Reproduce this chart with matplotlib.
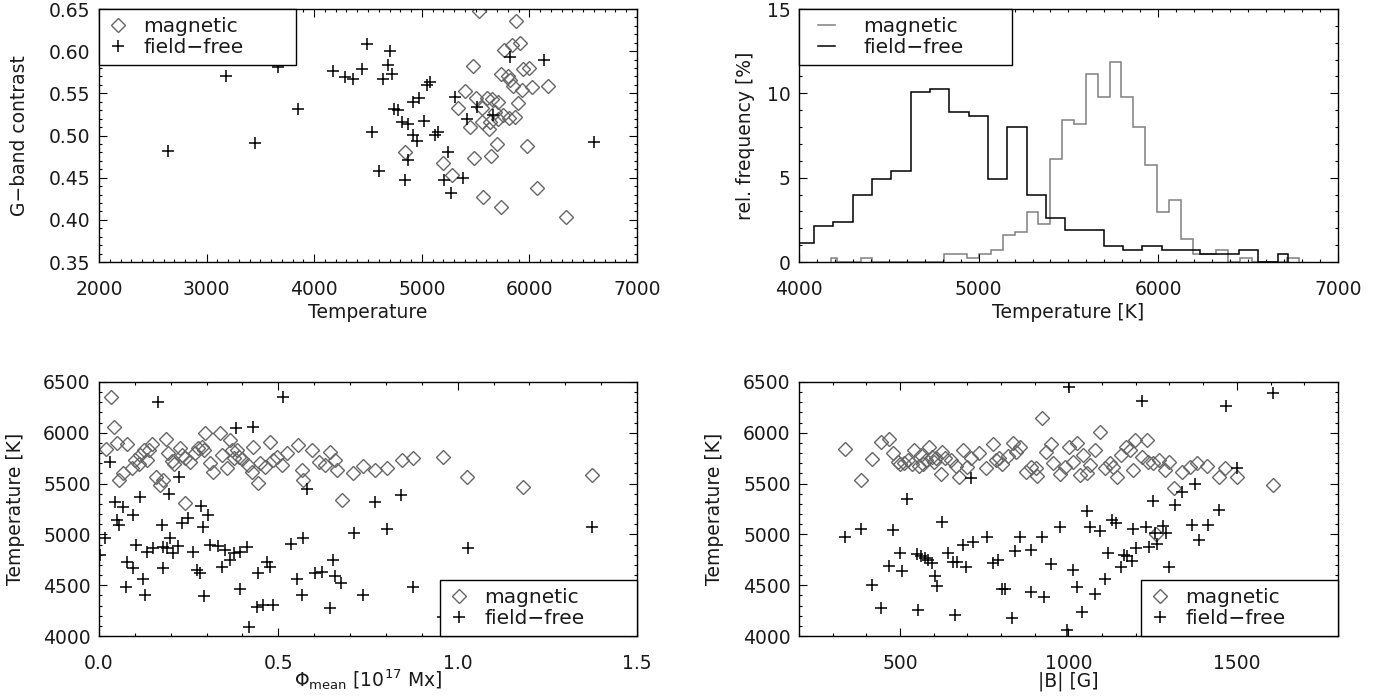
import matplotlib
matplotlib.use('Agg')
import matplotlib.pyplot as plt
from matplotlib.lines import Line2D
from matplotlib.legend_handler import HandlerLine2D
from matplotlib.ticker import MultipleLocator, FormatStrFormatter

# --- G-band contrast vs temperature (top left) ---
gc_mag_T = [5532, 5875, 5764, 5838, 5913, 5476, 5736, 5801, 5820, 5940, 5996, 5848, 5931, 6024,
            6173, 5401, 5504, 5606, 5652, 5708, 5336, 5894, 5560, 5680, 5755, 5810, 5866, 5560,
            5634, 5708, 5448, 5625, 5699, 5978, 4844, 5485, 5643, 5197, 5281, 6071, 5569, 5736, 6340]
gc_mag_c = [0.648, 0.636, 0.601, 0.607, 0.610, 0.582, 0.573, 0.571, 0.566, 0.579, 0.580, 0.559, 0.554, 0.558,
            0.559, 0.553, 0.544, 0.544, 0.543, 0.540, 0.533, 0.539, 0.533, 0.528, 0.524, 0.521, 0.522, 0.516,
            0.516, 0.520, 0.510, 0.508, 0.490, 0.488, 0.480, 0.473, 0.476, 0.467, 0.453, 0.438, 0.427, 0.415, 0.403]
gc_ff_T = [2641, 3180, 3450, 3664, 3849, 4175, 4286, 4361, 4444, 4491, 4639, 4686, 4704, 4723,
           4537, 4602, 4742, 4779, 4816, 4872, 4872, 4844, 4918, 4955, 4918, 4974, 5020, 5048,
           5076, 5123, 5151, 5243, 5206, 5271, 5383, 5309, 5420, 5513, 5662, 5820, 6136, 6600]
gc_ff_c = [0.482, 0.571, 0.491, 0.581, 0.531, 0.577, 0.569, 0.567, 0.579, 0.608, 0.567, 0.584, 0.600, 0.573,
           0.504, 0.458, 0.531, 0.530, 0.516, 0.514, 0.471, 0.447, 0.501, 0.494, 0.540, 0.544, 0.517, 0.560,
           0.563, 0.501, 0.504, 0.480, 0.447, 0.432, 0.450, 0.546, 0.520, 0.534, 0.524, 0.593, 0.590, 0.492]

# --- temperature histograms (top right): bin edges [K], rel. frequency [%] ---
hist_mag_edges = [4178, 4211, 4343, 4409, 4805, 4871, 4937, 5003, 5069, 5135, 5201, 5267, 5333,
                  5399, 5465, 5531, 5597, 5663, 5729, 5795, 5861, 5927, 5993, 6059, 6125, 6191,
                  6257, 6323, 6389, 6455, 6521, 6719, 6785]
hist_mag_freq = [0.24, 0, 0.24, 0, 0.47, 0.47, 0.24, 0.47, 0.69, 1.62, 1.80, 2.96,
                 2.25, 6.13, 8.44, 8.20, 11.17, 9.76, 11.86, 9.76, 8.00, 5.77, 2.96, 3.66,
                 1.38, 0.47, 0.47, 0.70, 0, 0.24, 0, 0.24]
hist_ff_edges = [3978, 4085, 4192, 4300, 4407, 4515, 4622, 4730, 4837, 4945, 5052, 5160, 5267,
                 5375, 5482, 5590, 5697, 5805, 5912, 6020, 6127, 6235, 6342, 6450, 6557, 6665, 6720]
hist_ff_freq = [1.15, 2.11, 2.35, 3.99, 4.92, 5.38, 10.06, 10.26, 8.87, 8.64, 4.92, 7.98,
                3.99, 2.61, 1.92, 1.92, 0.93, 0.70, 0.93, 0.70, 0.70, 0.47, 0.47, 0.70, 0, 0.47]

# --- temperature vs mean flux (bottom left) ---
phi_mag = [0.033, 0.042, 0.020, 0.049, 0.077, 0.056, 0.068, 0.091, 0.100, 0.114, 0.125, 0.138, 0.147,
           0.112, 0.133, 0.159, 0.170, 0.179, 0.186, 0.193, 0.203, 0.210, 0.226, 0.230, 0.240, 0.240,
           0.254, 0.268, 0.277, 0.286, 0.293, 0.296, 0.309, 0.319, 0.337, 0.342, 0.356, 0.365, 0.370,
           0.375, 0.384, 0.391, 0.398, 0.414, 0.426, 0.430, 0.442, 0.449, 0.463, 0.477, 0.486, 0.495,
           0.509, 0.523, 0.556, 0.565, 0.570, 0.593, 0.612, 0.630, 0.644, 0.658, 0.664, 0.677, 0.709,
           0.735, 0.770, 0.804, 0.844, 0.876, 0.958, 1.027, 1.181, 1.374]
phi_mag_T = [6356, 6054, 5837, 5896, 5890, 5535, 5601, 5650, 5732, 5781, 5831, 5831, 5890,
             5693, 5732, 5568, 5486, 5535, 5936, 5798, 5726, 5693, 5847, 5781, 5749, 5312,
             5716, 5798, 5847, 5863, 5831, 5995, 5699, 5617, 6001, 5781, 5650, 5929, 5831,
             5749, 5831, 5758, 5739, 5683, 5617, 5863, 5503, 5699, 5667, 5913, 5732, 5765,
             5683, 5798, 5880, 5634, 5535, 5831, 5716, 5683, 5814, 5732, 5634, 5339, 5608,
             5673, 5634, 5650, 5732, 5749, 5765, 5562, 5470, 5585]
phi_ff = [0.165, 0.512, 0.031, 0.381, 0.430, 0.223, 0.195, 0.045, 0.114, 0.066, 0.096, 0.050, 0.057,
          0.017, 0.003, 0.175, 0.198, 0.230, 0.249, 0.284, 0.291, 0.305, 0.310, 0.103, 0.133, 0.151,
          0.178, 0.189, 0.206, 0.220, 0.263, 0.333, 0.351, 0.375, 0.393, 0.412, 0.365, 0.342, 0.077,
          0.096, 0.075, 0.124, 0.128, 0.178, 0.272, 0.282, 0.293, 0.393, 0.419, 0.444, 0.440, 0.458,
          0.484, 0.467, 0.477, 0.534, 0.568, 0.551, 0.565, 0.579, 0.602, 0.621, 0.644, 0.651, 0.657,
          0.676, 0.735, 0.770, 0.842, 0.711, 0.802, 0.876, 0.960, 1.028, 1.374]
phi_ff_T = [6306, 6356, 5716, 6044, 6054, 5568, 5398, 5322, 5371, 5273, 5191, 5142, 5092,
            4961, 4797, 5092, 4961, 5109, 5158, 5279, 5076, 5191, 4896, 4896, 4830, 4863,
            4879, 4863, 4820, 4886, 4830, 4886, 4846, 4814, 4830, 4879, 4748, 4682, 4731,
            4666, 4485, 4558, 4403, 4666, 4650, 4623, 4394, 4459, 4092, 4617, 4289, 4305,
            4305, 4731, 4682, 4905, 4961, 4558, 4403, 5444, 4617, 4633, 4272, 4748, 4590,
            4525, 4403, 5322, 5388, 5010, 5050, 4485, 4190, 4863, 5076]

# --- temperature vs field strength (bottom right) ---
b_mag = [337, 384, 416, 445, 468, 480, 495, 500, 511, 524, 537, 542, 555, 562, 569, 576, 586, 596,
         601, 608, 621, 626, 635, 650, 665, 675, 687, 700, 710, 735, 755, 775, 785, 795, 803, 820,
         835, 843, 857, 873, 890, 905, 906, 923, 933, 947, 955, 975, 990, 1003, 1014, 1024, 1034,
         1044, 1054, 1064, 1079, 1093, 1108, 1123, 1133, 1143, 1157, 1172, 1182, 1192, 1197, 1217,
         1232, 1237, 1251, 1269, 1286, 1299, 1313, 1260, 1336, 1361, 1383, 1411, 1446, 1466, 1499, 1607]
b_mag_T = [5837, 5535, 5739, 5913, 5939, 5804, 5716, 5693, 5706, 5732, 5693, 5831, 5673, 5781, 5693,
           5732, 5857, 5765, 5716, 5749, 5594, 5814, 5749, 5732, 5673, 5562, 5831, 5660, 5749, 5798,
           5650, 5890, 5732, 5749, 5693, 5771, 5903, 5814, 5857, 5617, 5667, 5650, 5575, 6142, 5814,
           5890, 5699, 5594, 5667, 5863, 5716, 5896, 5585, 5781, 5601, 5683, 5831, 6011, 5650, 5699,
           5667, 5568, 5781, 5863, 5831, 5634, 5929, 5765, 5929, 5716, 5699, 5732, 5634, 5716, 5454,
           5004, 5617, 5667, 5706, 5673, 5568, 5650, 5568, 5486]
b_ff = [337, 384, 416, 445, 468, 480, 500, 505, 521, 554, 549, 561, 574, 584, 594, 604, 611, 626,
        643, 658, 663, 670, 688, 696, 710, 717, 757, 777, 792, 802, 812, 831, 841, 856, 890, 890,
        923, 947, 926, 1002, 976, 1014, 1024, 1039, 995, 1054, 1064, 1093, 1079, 1108, 1118, 1130,
        1140, 1155, 1165, 1175, 1188, 1192, 1200, 1217, 1231, 1240, 1257, 1262, 1281, 1291, 1252,
        1316, 1336, 1375, 1299, 1366, 1389, 1413, 1448, 1468, 1499, 1607]
b_ff_T = [4971, 5050, 4502, 4272, 4689, 5043, 4814, 4640, 5345, 4256, 4804, 4787, 4764, 4748, 4722,
          4591, 4492, 5125, 4814, 4732, 4207, 4732, 4896, 4682, 5552, 4929, 4978, 4716, 4748, 4459,
          4459, 4174, 4840, 4978, 4436, 4846, 4978, 4709, 4387, 6448, 5069, 4650, 4486, 4239, 4059,
          5233, 5076, 5037, 4413, 4558, 4820, 5142, 5109, 4676, 4797, 4787, 4741, 5050, 4863, 6316,
          5076, 4879, 5017, 4905, 5083, 5010, 5332, 5289, 5421, 5496, 4676, 5092, 4945, 5095, 5243,
          6263, 5650, 6388]

labels = ['magnetic', 'field\u2212free']

GRAY = '#666666'
HGRAY = '#808080'
TXT = '#1a1a1a'

plt.rcParams['font.family'] = ['DejaVu Sans']
plt.rcParams['font.size'] = 13.5
plt.rcParams['text.color'] = TXT
plt.rcParams['axes.labelcolor'] = TXT
plt.rcParams['xtick.labelcolor'] = TXT
plt.rcParams['ytick.labelcolor'] = TXT

fig = plt.figure(figsize=(13.83, 7.0), dpi=100)
ax_tl = fig.add_axes([0.0716, 0.6257, 0.3890, 0.3614])
ax_tr = fig.add_axes([0.5777, 0.6257, 0.3897, 0.3614])
ax_bl = fig.add_axes([0.0716, 0.0914, 0.3890, 0.3629])
ax_br = fig.add_axes([0.5777, 0.0914, 0.3897, 0.3629])


def style_axes(ax, xmaj, xmin, ymaj, ymin):
    ax.xaxis.set_major_locator(MultipleLocator(xmaj))
    ax.xaxis.set_minor_locator(MultipleLocator(xmin))
    ax.yaxis.set_major_locator(MultipleLocator(ymaj))
    ax.yaxis.set_minor_locator(MultipleLocator(ymin))
    ax.tick_params(which='both', direction='in', top=True, right=True, width=0.8, color='black')
    ax.tick_params(which='major', length=5.5)
    ax.tick_params(which='minor', length=2.5)
    ax.tick_params(axis='x', which='major', pad=13)
    ax.tick_params(axis='y', which='major', pad=6)
    for s in ax.spines.values():
        s.set_linewidth(1.0)


def scatter_pair(ax, xm, ym, xf, yf):
    m, = ax.plot(xm, ym, linestyle='none', marker='D', ms=6.8, mfc='none', mec=GRAY, mew=1.0)
    f, = ax.plot(xf, yf, linestyle='none', marker='+', ms=9, mec='black', mew=1.1)
    return [m, f]


def add_legend(ax, handles, loc, x0, w, **kw):
    opts = dict(fontsize=14.5, borderpad=0.41, labelspacing=0.08, handlelength=1.07,
                handletextpad=0.71, borderaxespad=0, fancybox=False, framealpha=1,
                edgecolor='black', facecolor='white')
    opts.update(kw)
    leg = ax.legend(handles, labels, loc=loc, bbox_to_anchor=(x0, 0, w, 1), mode='expand', **opts)
    leg.get_frame().set_linewidth(1.0)
    leg.set_zorder(5)
    return leg


# top left
h = scatter_pair(ax_tl, gc_mag_T, gc_mag_c, gc_ff_T, gc_ff_c)
ax_tl.set_xlim(2000, 7000)
ax_tl.set_ylim(0.35, 0.65)
style_axes(ax_tl, 1000, 100, 0.05, 0.01)
ax_tl.yaxis.set_major_formatter(FormatStrFormatter('%.2f'))
ax_tl.set_xlabel('Temperature', va='center')
ax_tl.xaxis.set_label_coords(0.5, -0.198)
ax_tl.set_ylabel('G\u2212band contrast', va='center')
ax_tl.yaxis.set_label_coords(-0.147, 0.5)
add_legend(ax_tl, h, 'upper left', 0, 197 / 538)

# top right
ax_tr.stairs(hist_mag_freq, hist_mag_edges, baseline=0, color=HGRAY, lw=1.1)
ax_tr.stairs(hist_ff_freq, hist_ff_edges, baseline=0, color='black', lw=1.1)
ax_tr.set_xlim(4000, 7000)
ax_tr.set_ylim(0, 15)
style_axes(ax_tr, 1000, 100, 5, 1)
ax_tr.set_xlabel('Temperature [K]', va='center')
ax_tr.xaxis.set_label_coords(0.5, -0.198)
ax_tr.set_ylabel('rel. frequency [%]', va='center')
ax_tr.yaxis.set_label_coords(-0.100, 0.5)
hl = [Line2D([], [], color=HGRAY, lw=1.1), Line2D([], [], color='black', lw=1.1)]
add_legend(ax_tr, hl, 'upper left', 0, 213 / 539, handlelength=1.92, handletextpad=0.86,
           handler_map={Line2D: HandlerLine2D(marker_pad=0.54, numpoints=2)})

# bottom left
h = scatter_pair(ax_bl, phi_mag, phi_mag_T, phi_ff, phi_ff_T)
ax_bl.set_xlim(0, 1.5)
ax_bl.set_ylim(4000, 6500)
style_axes(ax_bl, 0.5, 0.1, 500, 100)
ax_bl.xaxis.set_major_formatter(FormatStrFormatter('%.1f'))
ax_bl.set_xlabel(r'$\Phi_{\rm mean}$ [10$^{17}$ Mx]', va='center')
ax_bl.xaxis.set_label_coords(0.5, -0.173)
ax_bl.set_ylabel('Temperature [K]', va='center')
ax_bl.yaxis.set_label_coords(-0.156, 0.5)
add_legend(ax_bl, h, 'lower right', 1 - 197 / 538, 197 / 538)

# bottom right
h = scatter_pair(ax_br, b_mag, b_mag_T, b_ff, b_ff_T)
ax_br.set_xlim(200, 1800)
ax_br.set_ylim(4000, 6500)
style_axes(ax_br, 500, 100, 500, 100)
ax_br.set_xlabel('|B| [G]', va='center')
ax_br.xaxis.set_label_coords(0.5, -0.177)
ax_br.set_ylabel('Temperature [K]', va='center')
ax_br.yaxis.set_label_coords(-0.156, 0.5)
add_legend(ax_br, h, 'lower right', 1 - 197 / 539, 197 / 539)

fig.savefig('out.png', dpi=100)
